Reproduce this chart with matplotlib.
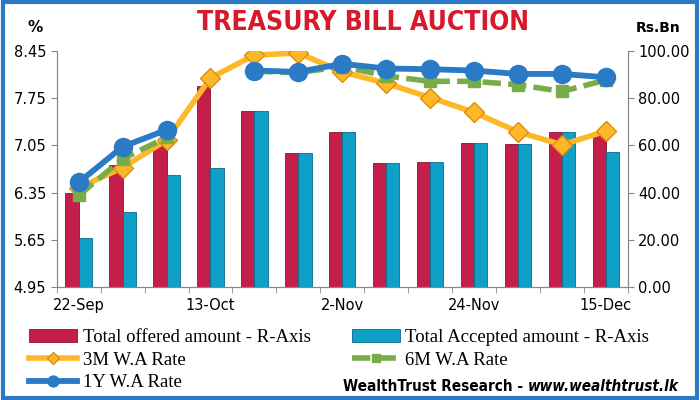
import matplotlib.pyplot as plt
import numpy as np
from matplotlib.patches import Rectangle

# dados
dates = ['22-Sep', '29-Sep', '6-Oct', '13-Oct', '20-Oct', '27-Oct', '2-Nov',
         '10-Nov', '17-Nov', '24-Nov', '1-Dec', '8-Dec', '15-Dec']
tick_labels = ['22-Sep', '', '', '13-Oct', '', '', '2-Nov', '', '', '24-Nov', '', '', '15-Dec']
offered = [40.0, 51.7, 60.0, 85.0, 74.6, 56.6, 65.8, 52.4, 53.1, 60.9, 60.5, 65.8, 65.8]
accepted = [20.6, 31.6, 47.5, 50.6, 74.6, 56.6, 65.8, 52.4, 53.1, 60.9, 60.5, 65.8, 57.3]
rate_3m = [6.42, 6.72, 7.13, 8.05, 8.39, 8.42, 8.14, 7.97, 7.76, 7.54, 7.25, 7.06, 7.26]
rate_6m = [6.31, 6.85, 7.17, np.nan, 8.15, 8.13, 8.22, 8.08, 8.00, 8.00, 7.95, 7.85, 8.02]
rate_1y = [6.50, 7.03, 7.28, np.nan, 8.16, 8.14, 8.26, 8.19, 8.18, 8.16, 8.11, 8.11, 8.06]

x = np.arange(len(dates))

fig = plt.figure(figsize=(7, 4), dpi=100)
ax = fig.add_axes([0.081, 0.2825, 0.816, 0.59])
ax2 = ax.twinx()

# barras no eixo da direita
w = 0.3
b1 = ax2.bar(x - w / 2, offered, w, color='#C41E4A', edgecolor='#8a1030', linewidth=0.6,
             label='Total offered amount - R-Axis')
b2 = ax2.bar(x + w / 2, accepted, w, color='#0FA0C8', edgecolor='#0a6a88', linewidth=0.6,
             label='Total Accepted amount - R-Axis')
ax2.set_ylim(0, 100)
ax2.set_yticks(np.arange(0, 101, 20))
ax2.set_yticklabels(['%.2f' % v for v in np.arange(0, 101, 20)])

# linhas no eixo da esquerda, por cima das barras
ax.set_zorder(ax2.get_zorder() + 1)
ax.patch.set_visible(False)
l3, = ax.plot(x, rate_3m, color='#FDB827', lw=4, marker='D', ms=10,
              mfc='#FDB827', mec='#E08A10', label='3M W.A Rate')
l6, = ax.plot(x, rate_6m, color='#77AC48', lw=4, ls=(0, (3.3, 1.3)), marker='s', ms=9,
              mfc='#77AC48', mec='#77AC48', label='6M W.A Rate')
l1, = ax.plot(x, rate_1y, color='#2A7AC6', lw=4.2, marker='o', ms=13,
              mfc='#2A7AC6', mec='#2A7AC6', label='1Y W.A Rate')
ax.set_ylim(4.95, 8.45)
yt = [4.95, 5.65, 6.35, 7.05, 7.75, 8.45]
ax.set_yticks(yt)
ax.set_yticklabels(['%.2f' % v for v in yt])

ax.set_xlim(-0.5, len(dates) - 0.5)
ax.set_xticks(x)
ax.set_xticklabels(tick_labels)
ax.set_xticks(np.arange(-0.5, len(dates), 1), minor=True)
ax.tick_params(axis='x', which='major', length=0, pad=8)
ax.tick_params(axis='x', which='minor', length=4, color='#888888')

for a in (ax, ax2):
    a.spines['top'].set_visible(False)
    for s in ('left', 'right', 'bottom'):
        a.spines[s].set_color('#888888')
    a.tick_params(axis='y', length=4, color='#888888', labelsize=10.5)
ax.tick_params(axis='x', labelsize=10.5)

fig.text(0.05, 0.92, '%', fontsize=11, fontweight='bold', ha='center')
fig.text(0.94, 0.92, 'Rs.Bn', fontsize=10, fontweight='bold', ha='center')
fig.text(0.518, 0.925, 'TREASURY BILL AUCTION', fontsize=19, fontweight='bold',
         color='#D7192B', ha='center', family='DejaVu Sans', stretch='condensed')

leg = fig.legend(handles=[b1, l3, l1, b2, l6], ncol=2, loc='upper left',
                 bbox_to_anchor=(0.041, 0.178), frameon=False,
                 prop={'family': 'Liberation Serif', 'size': 13.5},
                 handlelength=2.6, handletextpad=0.27, columnspacing=2.2,
                 labelspacing=0.3, borderpad=0, borderaxespad=0, markerscale=0.6)

# rodape: parte negrito + url em italico
url = fig.text(0.97, 0.016, 'www.wealthtrust.lk', fontsize=11, fontweight='bold',
               style='italic', ha='right', va='bottom', stretch='condensed')
fig.canvas.draw()
bb = url.get_window_extent(renderer=fig.canvas.get_renderer())
x0 = bb.x0 / fig.bbox.width
fig.text(x0, 0.016, 'WealthTrust Research - ', fontsize=11, fontweight='bold',
         ha='right', va='bottom', stretch='condensed')

fig.patches.append(Rectangle((0.004, 0.006), 0.992, 0.988, transform=fig.transFigure,
                             fill=False, edgecolor='#2A7AC6', linewidth=3))

fig.savefig('out.png', dpi=100)
